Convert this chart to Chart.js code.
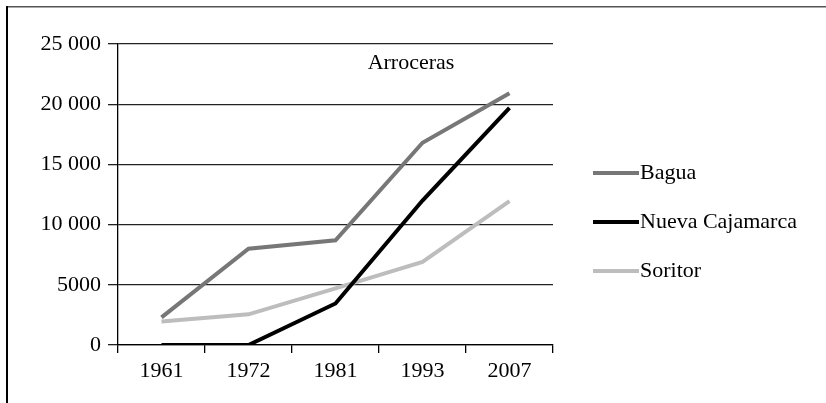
<!DOCTYPE html>
<html>
<head>
<meta charset="utf-8">
<script src="https://cdn.jsdelivr.net/npm/chart.js@4/dist/chart.umd.min.js"></script>
<style>
  html, body { margin: 0; padding: 0; background: #fff; }
  #wrap { position: relative; width: 826px; height: 403px; }
</style>
</head>
<body>
<div id="wrap"><canvas id="c" width="826" height="403"></canvas></div>
<script>
const years = ['1961', '1972', '1981', '1993', '2007'];
const bagua = [2300, 8000, 8700, 16800, 20900];
const nuevaCajamarca = [0, 0, 3450, 12000, 19700];
const soritor = [1950, 2550, 4700, 6900, 11950];
const seriesNames = ['Bagua', 'Nueva Cajamarca', 'Soritor'];
const seriesColors = ['#777777', '#000000', '#bdbdbd'];
const yTicks = [0, 5000, 10000, 15000, 20000, 25000];
const chartTitle = 'Arroceras';

const FONT = '"Liberation Serif", "Times New Roman", serif';
const FS = 22;

function fmt(v) {
  if (v < 10000) return String(v);
  const s = String(v);
  return s.slice(0, s.length - 3) + ' ' + s.slice(s.length - 3);
}

const decor = {
  id: 'decor',
  beforeDraw(chart) {
    const ctx = chart.ctx;
    ctx.save();
    ctx.fillStyle = '#fff';
    ctx.fillRect(0, 0, chart.width, chart.height);
    ctx.fillStyle = '#555';
    ctx.fillRect(6, 6, chart.width - 6, 1.5);
    ctx.fillStyle = '#000';
    ctx.fillRect(6, 6, 2, chart.height - 6);
    ctx.restore();
  },
  afterDraw(chart) {
    const ctx = chart.ctx;
    const area = chart.chartArea;
    ctx.save();
    ctx.font = FS + 'px ' + FONT;
    ctx.fillStyle = '#000';
    ctx.textAlign = 'center';
    ctx.textBaseline = 'middle';
    ctx.fillText(chartTitle, 411, 63);
    const x0 = area.right + 40;
    chart.data.datasets.forEach((ds, i) => {
      const y = 173 + i * 49;
      ctx.strokeStyle = ds.borderColor;
      ctx.lineWidth = 4;
      ctx.beginPath();
      ctx.moveTo(x0, y);
      ctx.lineTo(x0 + 46, y);
      ctx.stroke();
      ctx.fillStyle = '#000';
      ctx.textAlign = 'left';
      ctx.fillText(ds.label, x0 + 47, y);
    });
    ctx.restore();
  }
};

const seriesData = [bagua, nuevaCajamarca, soritor];

new Chart(document.getElementById('c'), {
  type: 'line',
  data: {
    labels: years,
    datasets: seriesData.map((d, i) => ({
      label: seriesNames[i],
      data: d,
      borderColor: seriesColors[i],
      backgroundColor: seriesColors[i],
      borderWidth: 4,
      pointRadius: 0,
      tension: 0,
      fill: false,
      order: i === 0 ? 3 : (i === 1 ? 1 : 2)
    }))
  },
  options: {
    responsive: false,
    animation: false,
    devicePixelRatio: 1,
    layout: { padding: { left: 0, top: 44, right: 273, bottom: 0 } },
    plugins: { legend: { display: false }, title: { display: false }, tooltip: { enabled: false } },
    scales: {
      x: {
        offset: true,
        grid: { offset: true, drawOnChartArea: false, drawTicks: true, tickLength: 8, color: '#000', lineWidth: 1.3 },
        border: { display: true, color: '#000', width: 1.3 },
        ticks: { color: '#000', font: { family: FONT, size: FS }, padding: 5, maxRotation: 0 },
        afterFit(scale) { scale.height = 58; }
      },
      y: {
        min: 0,
        max: 25000,
        afterBuildTicks(scale) { scale.ticks = yTicks.map(v => ({ value: v })); },
        grid: { color: '#222', lineWidth: 1.3, tickLength: 10 },
        border: { display: true, color: '#000', width: 1.3 },
        ticks: { color: '#000', font: { family: FONT, size: FS }, padding: 7, callback: v => fmt(v) },
        afterFit(scale) { scale.width = 118; }
      }
    }
  },
  plugins: [decor]
});
</script>
</body>
</html>
